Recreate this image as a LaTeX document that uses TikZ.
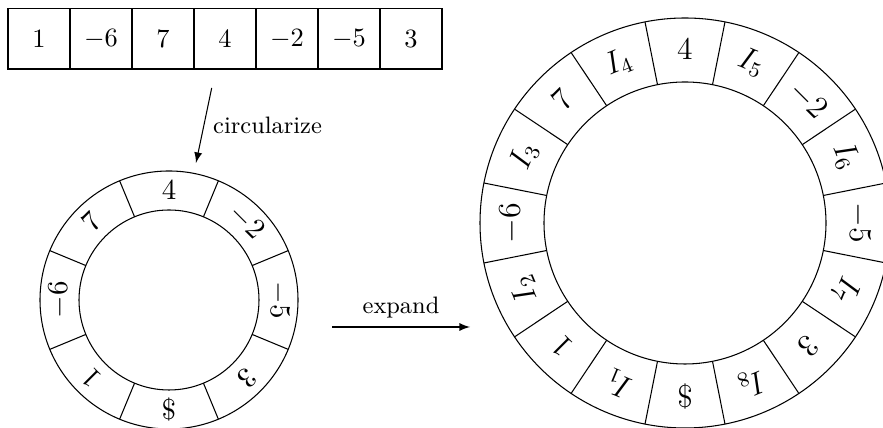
\documentclass[tikz,border=0pt]{standalone}
\usepackage{amsmath,amssymb}
\usepackage{tikz}
\tikzstyle{cell} = [draw, inner sep=0pt, minimum width=0.825cm, minimum height=0.799cm]
\tikzstyle{lab} = [inner sep=0pt, font=\fontsize{11}{13}\selectfont]
\tikzstyle{biglab} = [inner sep=0pt, font=\fontsize{11.8}{14}\selectfont]
\usetikzlibrary{arrows,calc}

\begin{document}
\begin{tikzpicture}[x=0.01331cm, y=0.01331cm, >=latex]
  \useasboundingbox (0,0) rectangle (883,428);
  \clip (0,0) rectangle (883,428);

  % the array
  \foreach \v [count=\i] in {1,-6,7,4,-2,-5,3}
    \node[cell] (a\i) at ({62*\i-23},389) {$\v$};

  % small ring
  \coordinate (S) at (169,128);
  \draw (S) circle (129);
  \draw (S) circle (90);
  \foreach \a in {22.5,67.5,...,337.5}
    \draw ($(S)+(\a:90)$) -- ($(S)+(\a:129)$);
  \foreach \v [count=\k] in {1,-6,7,4,-2,-5,3,\$}
    \node[lab, rotate={135-45*(\k-1)}] (s\k) at ($(S)+({225-45*(\k-1)}:110)$) {$\v$};

  % big ring
  \coordinate (B) at (685,205);
  \draw (B) circle (205);
  \draw (B) circle (141);
  \foreach \a in {11.25,33.75,...,348.75}
    \draw ($(B)+(\a:141)$) -- ($(B)+(\a:205)$);
  \foreach \v [count=\k] in {\$,I_1,1,I_2,-6,I_3,7,I_4,4,I_5,-2,I_6,-5,I_7,3,I_8}
    \node[biglab, rotate={180-22.5*(\k-1)}] (b\k) at ($(B)+({270-22.5*(\k-1)}:174)$) {$\v$};

  % arrows
  \coordinate (c1) at (211.7,340);
  \coordinate (c2) at (196,265);
  \coordinate (e1) at (332,101);
  \coordinate (e2) at (470,101);
  \draw[->] (c1) -- (c2) node[midway, right] {\small circularize};
  \draw[->] (e1) -- (e2) node[midway, above] {\small expand};
\end{tikzpicture}
\end{document}
